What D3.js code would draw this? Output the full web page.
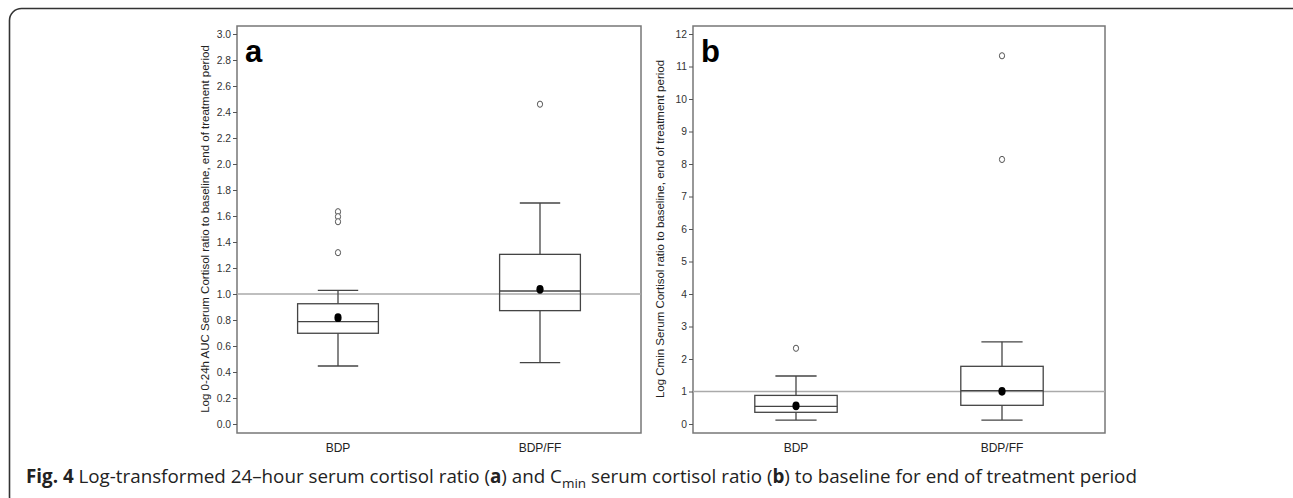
<!DOCTYPE html>
<html lang="en">
  <head>
    <meta charset="UTF-8" />
    <title>Fig. 4</title>
    <style>
      body { margin: 0; background: #fff; }
      svg { display: block; }
      .tick text { font-family: "Liberation Sans Narrow", "Liberation Sans", Arial, sans-serif; font-size: 10.3px; fill: #333; }
      .ylab { font-family: "Liberation Sans", Arial, sans-serif; font-size: 11.5px; fill: #222; }
      .xlab { font-family: "Liberation Sans Narrow", "Liberation Sans", Arial, sans-serif; font-size: 12px; fill: #222; }
      .panel-letter { font-family: "Liberation Sans", Arial, sans-serif; font-size: 31px; font-weight: bold; fill: #000; }
      .caption { font-family: "Open Sans", "Noto Sans", sans-serif; font-size: 18.8px; fill: #222; }
    </style>
  </head>
  <body>
    <svg id="chart" width="1293" height="498"></svg>
    <script src="https://cdn.jsdelivr.net/npm/d3@7"></script>
    <script>
      // groups
      const groups = ["BDP", "BDP/FF"];

      // panel a: log 0-24h AUC ratio
      const aucLow = [0.446, 0.472];
      const aucQ1 = [0.698, 0.872];
      const aucMedian = [0.787, 1.023];
      const aucQ3 = [0.925, 1.305];
      const aucHigh = [1.028, 1.70];
      const aucMean = [0.818, 1.036];
      const aucOutliers = [[1.633, 1.595, 1.556, 1.318], [2.46]];
      const aucTicks = [0.0, 0.2, 0.4, 0.6, 0.8, 1.0, 1.2, 1.4, 1.6, 1.8, 2.0, 2.2, 2.4, 2.6, 2.8, 3.0];

      // panel b: log Cmin ratio
      const cminLow = [0.12, 0.12];
      const cminQ1 = [0.36, 0.575];
      const cminMedian = [0.54, 1.025];
      const cminQ3 = [0.88, 1.775];
      const cminHigh = [1.477, 2.53];
      const cminMean = [0.56, 1.005];
      const cminOutliers = [[2.33], [11.33, 8.14]];
      const cminTicks = [0, 1, 2, 3, 4, 5, 6, 7, 8, 9, 10, 11, 12];

      const svg = d3.select("#chart");

      // outer rounded frame (clipped by the window on the right and bottom)
      svg.append("rect")
        .attr("x", 9.5).attr("y", 8.5)
        .attr("width", 1300).attr("height", 500)
        .attr("rx", 12)
        .style("fill", "none")
        .style("stroke", "#333")
        .style("stroke-width", 1.6);

      function drawPanel(cfg) {
        const g = svg.append("g");
        const x = d3.scalePoint().domain(groups).range([cfg.left, cfg.right]).padding(0.5);
        const y = d3.scaleLinear().domain(cfg.domain).range([424, 34]);
        const boxW = (cfg.right - cfg.left) * 0.2;

        // frame
        g.append("rect")
          .attr("x", cfg.left).attr("y", 26)
          .attr("width", cfg.right - cfg.left).attr("height", 433 - 26)
          .style("fill", "none")
          .style("stroke", "#777")
          .style("stroke-width", 1.5);

        // y axis
        g.append("g")
          .attr("transform", `translate(${cfg.left},0)`)
          .call(d3.axisLeft(y).tickValues(cfg.ticks).tickSize(4).tickPadding(2).tickFormat(cfg.fmt))
          .call(a => a.select(".domain").remove())
          .call(a => a.selectAll(".tick line").style("stroke", "#555"));

        // reference line at 1
        g.append("line")
          .attr("x1", cfg.left).attr("x2", cfg.right)
          .attr("y1", y(1)).attr("y2", y(1))
          .style("stroke", "#aaa")
          .style("stroke-width", 1.5);

        groups.forEach((grp, i) => {
          const cx = x(grp);
          const s = { lo: cfg.low[i], q1: cfg.q1[i], md: cfg.median[i], q3: cfg.q3[i], hi: cfg.high[i] };
          const stroke = "#444";
          // whiskers
          g.append("line").attr("x1", cx).attr("x2", cx).attr("y1", y(s.q3)).attr("y2", y(s.hi))
            .style("stroke", stroke).style("stroke-width", 1.3);
          g.append("line").attr("x1", cx).attr("x2", cx).attr("y1", y(s.q1)).attr("y2", y(s.lo))
            .style("stroke", stroke).style("stroke-width", 1.3);
          [s.lo, s.hi].forEach(v => {
            g.append("line").attr("x1", cx - boxW / 4).attr("x2", cx + boxW / 4)
              .attr("y1", y(v)).attr("y2", y(v))
              .style("stroke", stroke).style("stroke-width", 1.3);
          });
          // box
          g.append("rect")
            .attr("x", cx - boxW / 2).attr("y", y(s.q3))
            .attr("width", boxW).attr("height", y(s.q1) - y(s.q3))
            .style("fill", "none").style("stroke", stroke).style("stroke-width", 1.3);
          g.append("line").attr("x1", cx - boxW / 2).attr("x2", cx + boxW / 2)
            .attr("y1", y(s.md)).attr("y2", y(s.md))
            .style("stroke", stroke).style("stroke-width", 1.3);
          // mean
          g.append("ellipse").attr("cx", cx).attr("cy", y(cfg.mean[i]))
            .attr("rx", 3.6).attr("ry", 4.4).style("fill", "#000");
          // outliers
          g.selectAll(null).data(cfg.outliers[i]).enter().append("ellipse")
            .attr("cx", cx).attr("cy", d => y(d))
            .attr("rx", 2.6).attr("ry", 3.1)
            .style("fill", "#fff").style("stroke", "#555").style("stroke-width", 1);

          g.append("text").attr("class", "xlab")
            .attr("x", cx).attr("y", 452)
            .attr("text-anchor", "middle")
            .text(grp);
        });

        g.append("text").attr("class", "ylab")
          .attr("transform", `translate(${cfg.labelX},229) rotate(-90)`)
          .attr("text-anchor", "middle")
          .text(cfg.label);

        g.append("text").attr("class", "panel-letter")
          .attr("x", cfg.left + 8).attr("y", 62)
          .text(cfg.letter);
      }

      drawPanel({
        left: 237, right: 641, domain: [0, 3], ticks: aucTicks, fmt: d3.format(".1f"),
        low: aucLow, q1: aucQ1, median: aucMedian, q3: aucQ3, high: aucHigh, mean: aucMean, outliers: aucOutliers,
        label: "Log 0-24h AUC Serum Cortisol ratio to baseline, end of treatment period", labelX: 209, letter: "a"
      });

      drawPanel({
        left: 693, right: 1105, domain: [0, 12], ticks: cminTicks, fmt: d3.format("d"),
        low: cminLow, q1: cminQ1, median: cminMedian, q3: cminQ3, high: cminHigh, mean: cminMean, outliers: cminOutliers,
        label: "Log Cmin Serum Cortisol ratio to baseline, end of treatment period", labelX: 664, letter: "b"
      });

      // caption
      const cap = svg.append("text").attr("class", "caption").attr("x", 26).attr("y", 483);
      cap.append("tspan").style("font-weight", "bold").text("Fig. 4");
      cap.append("tspan").text(" Log-transformed 24\u2013hour serum cortisol ratio (");
      cap.append("tspan").style("font-weight", "bold").text("a");
      cap.append("tspan").text(") and C");
      cap.append("tspan").attr("dy", 5).style("font-size", "13.5px").text("min");
      cap.append("tspan").attr("dy", -5).text(" serum cortisol ratio (");
      cap.append("tspan").style("font-weight", "bold").text("b");
      cap.append("tspan").text(") to baseline for end of treatment period");
    </script>
  </body>
</html>
